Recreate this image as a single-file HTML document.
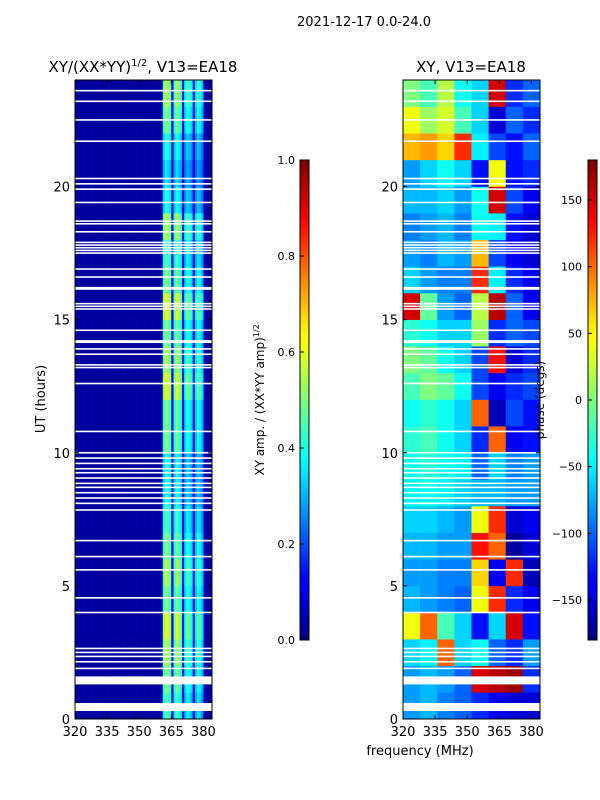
<!DOCTYPE html>
<html><head><meta charset="utf-8"><style>
html,body{margin:0;padding:0;background:#fff}
svg{display:block;font-family:"DejaVu Sans","Liberation Sans",sans-serif}
</style></head><body>
<svg id="fig" width="600" height="800">
<text x="364" y="26" font-size="13" text-anchor="middle">2021-12-17 0.0-24.0</text>
<text x="143" y="72" font-size="15" text-anchor="middle">XY/(XX*YY)<tspan font-size="10" dy="-6">1/2</tspan><tspan dy="6">, V13=EA18</tspan></text>
<text x="471" y="72" font-size="15" text-anchor="middle">XY, V13=EA18</text>
<g id="left"></g>
<g id="right"></g>
<g id="axes"></g>
<text transform="translate(45,399) rotate(-90)" font-size="13" text-anchor="middle">UT (hours)</text>
<text x="420" y="755" font-size="13" text-anchor="middle">frequency (MHz)</text>
<defs><linearGradient id="jet" x1="0" y1="1" x2="0" y2="0">
<stop offset="0" stop-color="#00007f"/><stop offset="0.11" stop-color="#0000ff"/><stop offset="0.125" stop-color="#0000ff"/><stop offset="0.34" stop-color="#00dcff"/><stop offset="0.375" stop-color="#00ffff"/><stop offset="0.5" stop-color="#7dff7a"/><stop offset="0.625" stop-color="#ffff00"/><stop offset="0.66" stop-color="#ffe600"/><stop offset="0.875" stop-color="#ff0000"/><stop offset="1" stop-color="#7f0000"/></linearGradient></defs>
<rect x="300" y="160" width="9" height="480" fill="url(#jet)" stroke="#000" stroke-width="1"/>
<rect x="588" y="160" width="9" height="480" fill="url(#jet)" stroke="#000" stroke-width="1"/>
<text transform="translate(264,400) rotate(-90)" font-size="12" text-anchor="middle">XY amp. / (XX*YY amp)<tspan font-size="8" dy="-5">1/2</tspan></text>
<text transform="translate(544,400) rotate(-90)" font-size="12" text-anchor="middle">phase (degs)</text>
<g id="cb"></g>
</svg>
<script>
// ---- data ----
const freqTicks = [320, 335, 350, 365, 380];
const hourTicks = [0, 5, 10, 15, 20];
const ampTicks = [0.0, 0.2, 0.4, 0.6, 0.8, 1.0];
const phaseTicks = [-150, -100, -50, 0, 50, 100, 150];
// amplitude per 1 MHz channel 320..383
const ampChannels = [
0.03,0.03,0.03,0.03,0.03,0.03,0.03,0.03,0.03,0.03,
0.03,0.03,0.03,0.03,0.03,0.03,0.03,0.03,0.03,0.03,
0.03,0.03,0.03,0.03,0.03,0.03,0.03,0.03,0.03,0.03,
0.03,0.03,0.03,0.03,0.03,0.03,0.03,0.03,0.03,0.03,
0.05,0.42,0.52,0.48,0.44,0.10,0.40,0.50,0.46,0.40,
0.12,0.34,0.42,0.38,0.34,0.12,0.32,0.40,0.36,0.30,
0.06,0.03,0.03,0.03];
// relative gain per hour 0..23
const ampHourGain = [0.9,1.0,1.1,1.2,1.0,1.1,1.0,0.9,0.8,0.8,1.0,1.0,1.2,1.1,1.0,1.2,1.0,0.9,1.1,0.8,0.7,0.8,1.0,1.1];
// phase grid: rows hour 0..23 (bottom to top), 8 columns of 8 MHz
const phaseGrid = [
[-80,-70,-90,-100,-120,-140,-150,-150],
[-80,-70,-80,-100,150,160,170,-120],
[-60,-50,100,-60,-40,-100,-120,-80],
[40,100,-20,-60,-130,-60,150,-130],
[-70,-80,-90,-100,40,120,-120,-140],
[-80,-80,-90,-90,60,-140,120,-160],
[-70,-70,-80,-80,130,100,-170,-150],
[-60,-60,-70,-80,40,120,-150,-140],
[-50,-40,-50,-60,-70,-70,-80,-80],
[-40,-30,-40,-50,-100,-60,-90,-80],
[-30,-20,-40,-60,-120,100,-140,-130],
[-40,-30,-40,-60,100,-160,-110,-130],
[-20,0,-10,-40,-110,-140,-120,-110],
[0,-10,-40,-60,-110,130,-150,-120],
[-30,-40,-60,-60,10,-120,-100,-110],
[150,-10,-80,-100,20,160,-100,-140],
[-60,-80,-90,-90,120,-50,-120,-140],
[-80,-90,-70,-80,70,-110,-140,-150],
[-90,-80,-70,-90,-40,-50,-130,-150],
[-70,-70,-60,-80,-40,150,-110,-140],
[-80,-60,-40,-60,-130,40,-130,-120],
[70,80,60,120,-50,-110,-130,-100],
[40,10,30,-20,-60,-150,-100,-120],
[0,-20,20,-40,-60,150,-120,-100]];
// flagged (white) hours
const flagLines = [23.6,23.2,22.5,21.7,20.3,20.1,19.9,19.4,18.7,18.6,18.3,17.9,17.8,17.7,17.6,17.5,16.9,16.6,16.2,16.15,15.6,15.5,15.4,14.6,14.2,14.15,13.9,13.7,13.3,13.2,12.6,10.8,10.0,9.8,9.6,9.4,9.25,9.05,8.85,8.7,8.5,8.3,8.1,7.85,6.7,6.1,5.6,4.55,4.0,2.65,2.5,2.35,2.15,1.9];
const flagBlocks = [[1.3,1.6],[0.3,0.6]];

// ---- layout ----
const NS="http://www.w3.org/2000/svg";
const PT=80,PB=719,FMIN=320,FMAX=384,HMAX=24;
const panels={left:{x0:75,x1:212},right:{x0:403,x1:540}};
const yS=h=>PB-(h/HMAX)*(PB-PT);
const xS=(p,f)=>p.x0+(f-FMIN)/(FMAX-FMIN)*(p.x1-p.x0);
function jet(t){t=Math.max(0,Math.min(1,t));
 const c=v=>Math.round(255*Math.max(0,Math.min(1,v)));
 return `rgb(${c(1.5-Math.abs(4*t-3))},${c(1.5-Math.abs(4*t-2))},${c(1.5-Math.abs(4*t-1))})`;}
function mk(tag,attrs,parent){const e=document.createElementNS(NS,tag);for(const k in attrs)e.setAttribute(k,attrs[k]);parent.appendChild(e);return e;}

const gl=document.getElementById('left');
ampHourGain.forEach((g,h)=>{ampChannels.forEach((a,c)=>{
 const e=mk('rect',{x:xS(panels.left,FMIN+c),y:yS(h+1),width:xS(panels.left,FMIN+c+1)-xS(panels.left,FMIN+c)+0.3,height:yS(h)-yS(h+1)+0.3,fill:jet(a<0.08?a:a*g)},gl);
 
 
});});
const gr=document.getElementById('right');
phaseGrid.forEach((row,h)=>{row.forEach((p,c)=>{
 const e=mk('rect',{x:xS(panels.right,FMIN+c*8),y:yS(h+1),width:xS(panels.right,FMIN+c*8+8)-xS(panels.right,FMIN+c*8)+0.3,height:yS(h)-yS(h+1)+0.3,fill:jet((p+180)/360)},gr);
 
 
});});
const ax=document.getElementById('axes');
for(const key in panels){const p=panels[key];const g=key==='left'?gl:gr;
 flagLines.forEach(h=>{const e=mk('rect',{x:p.x0,y:yS(h)-0.8,width:p.x1-p.x0,height:1.6,fill:'#fff'},g);
  
  });
 flagBlocks.forEach(b=>{const e=mk('rect',{x:p.x0,y:yS(b[1]),width:p.x1-p.x0,height:yS(b[0])-yS(b[1]),fill:'#fff'},g);
  
  });
 const fr=mk('rect',{x:p.x0,y:PT,width:p.x1-p.x0,height:PB-PT,fill:'none',stroke:'#000','stroke-width':1},ax);
 
 
 freqTicks.forEach(f=>{const x=xS(p,f);
  mk('line',{x1:x,x2:x,y1:PB,y2:PB-4,stroke:'#000'},ax);mk('line',{x1:x,x2:x,y1:PT,y2:PT+4,stroke:'#000'},ax);
  const t=mk('text',{x:x,y:PB+17,'font-size':13,'text-anchor':'middle'},ax);t.textContent=f;
  
  });
 hourTicks.forEach(h=>{const y=yS(h);
  mk('line',{x1:p.x0,x2:p.x0+4,y1:y,y2:y,stroke:'#000'},ax);mk('line',{x1:p.x1,x2:p.x1-4,y1:y,y2:y,stroke:'#000'},ax);
  const t=mk('text',{x:p.x0-5,y:y+5,'font-size':13,'text-anchor':'end'},ax);t.textContent=h;
  
  });
}
const cb=document.getElementById('cb');
ampTicks.forEach(v=>{const y=640-v*480;
 mk('line',{x1:300,x2:304,y1:y,y2:y,stroke:'#000'},cb);
 const t=mk('text',{x:295,y:y+4,'font-size':11,'text-anchor':'end'},cb);t.textContent=v.toFixed(1);
 
 });
phaseTicks.forEach(v=>{const y=640-(v+180)/360*480;
 mk('line',{x1:588,x2:592,y1:y,y2:y,stroke:'#000'},cb);
 const t=mk('text',{x:582,y:y+4,'font-size':11,'text-anchor':'end'},cb);t.textContent=v<0?'\u2212'+(-v):v;
 
 });
</script>
</body></html>
